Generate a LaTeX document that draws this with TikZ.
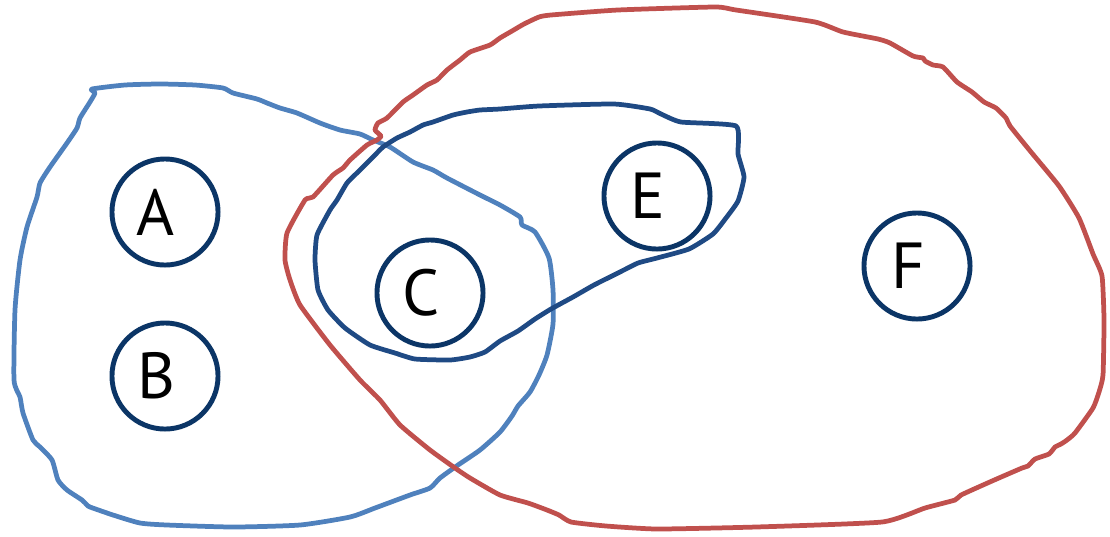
\documentclass[tikz,border=0pt]{standalone}
\usepackage{fontspec}
\setmainfont{PT Sans}
\definecolor{lblue}{HTML}{4F81BD}
\definecolor{lred}{HTML}{C0504D}
\definecolor{dblue}{HTML}{1F4A84}
\definecolor{navy}{HTML}{0B3566}
\tikzset{
  setline/.style={line width=1.35pt, line join=round},
  elem/.style={circle, draw=navy, line width=1.4pt, minimum size=1.06cm, inner sep=0pt},
  lbl/.style={font=\fontsize{18.5}{20}\selectfont, text=black, inner sep=0pt}
}
\begin{document}
\begin{tikzpicture}[x=0.01cm, y=-0.01cm]
\useasboundingbox (0,0) rectangle (1110,536);
% light blue set
\draw[setline, lblue] plot[smooth cycle, tension=0.35] coordinates {
(92,89) (125,85) (160,84) (195,85) (223,88) (233,93) (257,99) (267,103) (280,108) (297,113) (320,123) (340,130) (360,134) (373,140) (390,147) (413,162) (433,170) (447,178) (480,195) (500,205) (520,217) (522,225) (535,232) (549,258) (553,290) (553,324) (547,355) (539,375) (530,392) (518,406) (512,416) (500,432) (480,450) (458,465) (440,478) (430,488) (410,495) (375,508) (350,517) (300,525) (233,527) (167,525) (140,523) (113,515) (90,507) (87,505) (82,500) (67,490) (58,480) (52,460) (40,447) (33,440) (23,413) (20,397) (14,380) (15,310) (20,260) (27,227) (37,197) (40,183) (50,167) (67,143) (77,128) (80,118) (90,102) (95,93)};
% red set
\draw[setline, lred] plot[smooth cycle, tension=0.3] coordinates {
(375,130) (378,123) (387,118) (403,102) (413,95) (427,85) (437,80) (447,70) (460,60) (470,52) (490,45) (500,38) (512,31) (524,24) (539,17) (551,15) (618,10) (715,7) (736,10) (815,22) (843,32) (878,39) (890,43) (913,56) (923,58) (925,61) (933,65) (943,67) (957,82) (972,92) (984,102) (996,108) (1006,118) (1010,126) (1031,152) (1059,186) (1079,218) (1093,254) (1102,276) (1104,320) (1103,375) (1099,392) (1093,408) (1075,433) (1067,440) (1061,444) (1055,447) (1049,454) (1035,459) (1028,466) (1022,468) (992,481) (961,495) (955,500) (925,508) (882,522) (756,527) (657,529) (606,526) (571,522) (559,515) (547,510) (528,503) (500,495) (470,478) (455,468) (430,450) (400,425) (380,400) (360,380) (330,345) (300,305) (290,280) (285,260) (287,233) (305,200) (313,197) (333,175) (343,168) (350,160) (367,145) (377,140) (381,136)};
% dark blue set
\draw[setline, dblue] plot[smooth cycle, tension=0.3] coordinates {
(383,147) (397,138) (410,132) (423,125) (433,122) (453,115) (467,112) (480,110) (500,109) (539,106) (614,104) (650,109) (661,114) (681,122) (736,126) (738,154) (744,177) (738,201) (726,218) (713,234) (689,249) (657,258) (638,263) (618,273) (594,285) (573,297) (551,309) (535,319) (518,331) (500,341) (485,352) (470,357) (450,360) (415,359) (395,353) (370,345) (345,328) (328,310) (318,290) (315,260) (317,235) (330,210) (337,200) (347,183) (360,170) (373,157)};
% elements
\node[elem] (A) at (165,212) {};
\node[elem] (B) at (165,376) {};
\node[elem] (C) at (430,293) {};
\node[elem] (E) at (657,196) {};
\node[elem] (F) at (917,266) {};
\node[lbl] (tA) at ([xshift=-0.09cm]A.center) {A};
\node[lbl] (tB) at ([xshift=-0.09cm]B.center) {B};
\node[lbl] (tC) at ([xshift=-0.09cm]C.center) {C};
\node[lbl] (tE) at ([xshift=-0.09cm]E.center) {E};
\node[lbl] (tF) at ([xshift=-0.09cm]F.center) {F};
\end{tikzpicture}
\end{document}
